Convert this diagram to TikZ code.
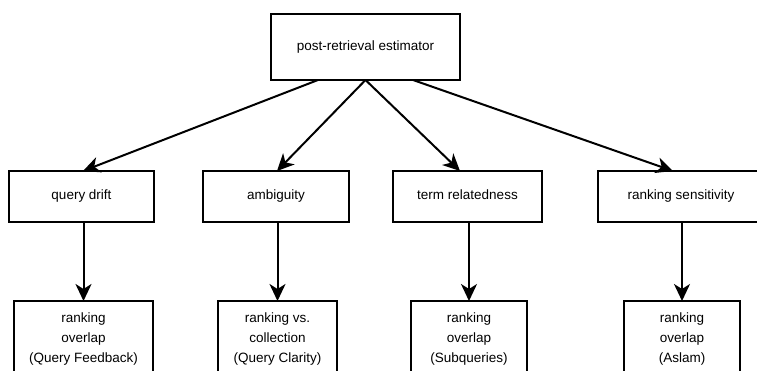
\documentclass[tikz,border=0pt]{standalone}
\usepackage{fontspec}
\setmainfont{Liberation Sans}
\usetikzlibrary{arrows.meta}

\begin{document}
\begin{tikzpicture}[x=1pt, y=1pt, yscale=-1, inner sep=0pt, outer sep=0pt,
  box/.style={draw=black, line width=2pt, fill=white, align=center,
    font=\fontsize{13.5}{20}\selectfont},
  onebox/.style={box, text height=10pt, text depth=3pt},
  link/.style={draw=black, line width=2pt,
    -{Stealth[length=17pt, width=16pt, inset=5pt]}}]
  \clip (0,0) rectangle (757,371);
  \fill[white] (0,0) rectangle (757,371);
  % top level
  \node[onebox, minimum width=189, minimum height=66] (estimator) at (365.5,47)
    {post-retrieval estimator};
  % properties
  \node[onebox, minimum width=145, minimum height=51] (drift) at (81.5,196.5)
    {query drift};
  \node[onebox, minimum width=146, minimum height=51] (ambiguity) at (276,196.5)
    {ambiguity};
  \node[onebox, minimum width=149, minimum height=51] (relatedness) at (467.5,196.5)
    {term relatedness};
  \node[onebox, minimum width=166, minimum height=51] (sensitivity) at (681,196.5)
    {ranking sensitivity};
  % predictors
  \node[box, minimum width=139, minimum height=76] (feedback) at (83.5,339)
    {ranking\\overlap\\(Query Feedback)};
  \node[box, minimum width=119, minimum height=76] (clarity) at (277.5,339)
    {ranking vs.\\collection\\(Query Clarity)};
  \node[box, minimum width=116, minimum height=76] (subqueries) at (469,339)
    {ranking\\overlap\\(Subqueries)};
  \node[box, minimum width=116, minimum height=76] (aslam) at (682,339)
    {ranking\\overlap\\(Aslam)};
  % arrows
  \path[link] ([xshift=-47.5]estimator.south) -- ([xshift=1.5]drift.north);
  \path[link] (estimator.south) -- ([xshift=1]ambiguity.north);
  \path[link] (estimator.south) -- ([xshift=-7.5]relatedness.north);
  \path[link] ([xshift=47.5]estimator.south) -- ([xshift=-8]sensitivity.north);
  \path[link] (feedback.north |- drift.south) -- (feedback.north);
  \path[link] (clarity.north |- ambiguity.south) -- (clarity.north);
  \path[link] (subqueries.north |- relatedness.south) -- (subqueries.north);
  \path[link] (aslam.north |- sensitivity.south) -- (aslam.north);
\end{tikzpicture}
\end{document}
